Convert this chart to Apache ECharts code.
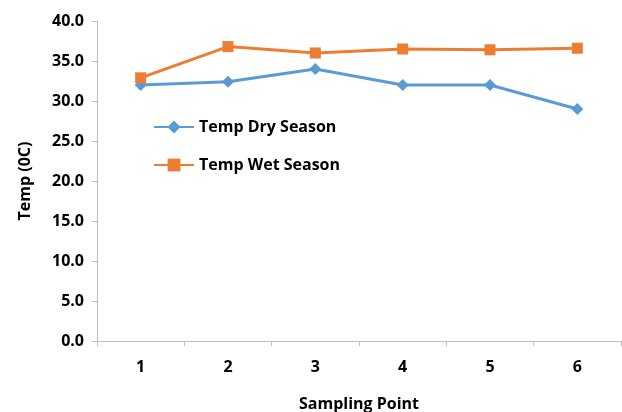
<!DOCTYPE html>
<html><head><meta charset="utf-8">
<script src="https://cdn.jsdelivr.net/npm/echarts@6/dist/echarts.min.js"></script>
<style>html,body{margin:0;padding:0;background:#fff}#c{width:622px;height:412px}</style>
</head><body><div id="c"></div>
<script>
const categories = ['1','2','3','4','5','6'];
const dryValues = [32.0, 32.4, 34.0, 32.0, 32.0, 29.0];
const wetValues = [32.9, 36.8, 36.0, 36.5, 36.4, 36.6];
const seriesNames = ['Temp Dry Season', 'Temp Wet Season'];
const fontFam = '"Open Sans", "Noto Sans", sans-serif';
const fs = 16;
const chart = echarts.init(document.getElementById('c'));
chart.setOption({
  animation: false,
  grid: {left: 97, right: 1, top: 21, bottom: 71, containLabel: false, outerBoundsMode: 'none'},
  legend: {
    orient: 'vertical', left: 153, top: 119, padding: 0, itemWidth: 40, itemHeight: 16, itemGap: 22,
    textStyle: {fontFamily: fontFam, fontWeight: 'bold', fontSize: fs, color: '#000'},
    data: seriesNames
  },
  xAxis: {
    type: 'category', data: categories, boundaryGap: true,
    name: 'Sampling Point', nameLocation: 'middle', nameGap: 55,
    nameTextStyle: {fontFamily: fontFam, fontWeight: 'bold', fontSize: fs, color: '#000'},
    axisLine: {lineStyle: {color: '#bfbfbf', width: 1}},
    axisTick: {show: true, length: 5, lineStyle: {color: '#bfbfbf'}},
    axisLabel: {fontFamily: fontFam, fontWeight: 'bold', fontSize: fs, color: '#000', margin: 18}
  },
  yAxis: {
    type: 'value', min: 0, max: 40, interval: 5,
    name: 'Temp (0C)', nameLocation: 'middle', nameGap: 64, nameRotate: 90,
    nameTextStyle: {fontFamily: fontFam, fontWeight: 'bold', fontSize: fs, color: '#000'},
    axisLine: {show: true, lineStyle: {color: '#bfbfbf', width: 1}},
    axisTick: {show: true, length: 5, lineStyle: {color: '#bfbfbf'}},
    splitLine: {show: false},
    axisLabel: {fontFamily: fontFam, fontWeight: 'bold', fontSize: fs, color: '#000', margin: 13,
      formatter: v => v.toFixed(1)}
  },
  series: [
    {name: seriesNames[0], type: 'line', data: dryValues, symbol: 'diamond', symbolSize: 12,
     lineStyle: {color: '#5B9BD5', width: 3}, itemStyle: {color: '#5B9BD5'}},
    {name: seriesNames[1], type: 'line', data: wetValues, symbol: 'rect', symbolSize: 11,
     lineStyle: {color: '#ED7D31', width: 3}, itemStyle: {color: '#ED7D31'}}
  ]
});
</script></body></html>
